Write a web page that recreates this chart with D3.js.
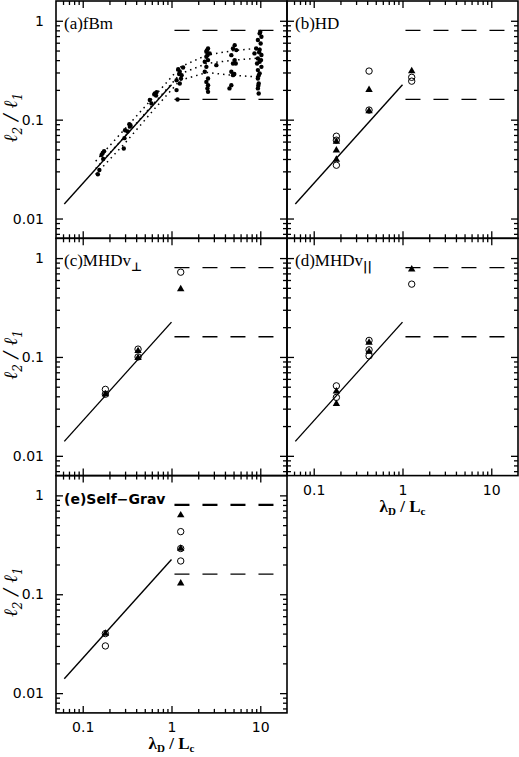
<!DOCTYPE html>
<html>
<head>
<meta charset="utf-8">
<script src="https://cdn.jsdelivr.net/npm/d3@7"></script>
<style>
body { margin: 0; background: #fff; }
svg { display: block; }
.frame { fill: none; stroke: #000; stroke-width: 1.6px; }
.tick line { stroke: #000; stroke-width: 1.3px; }
.ticklabel text { font-family: "DejaVu Sans", sans-serif; font-size: 14px; fill: #000; }
.panel-label { font-family: "Liberation Serif", serif; font-size: 17px; fill: #000; }
.fit { fill: none; stroke: #000; stroke-width: 1.4px; }
.limit { fill: none; stroke: #000; stroke-width: 1.3px; stroke-dasharray: 15,13; }
.fbm-path { fill: none; stroke: #000; stroke-width: 1.5px; stroke-dasharray: 1.5,4; }
</style>
</head>
<body>
<div id="canvas"></div>
<script>
// ---- DATA ----
var xMajor = [0.1, 1, 10];
var xMinor = [0.06, 0.07, 0.08, 0.09, 0.2, 0.3, 0.4, 0.5, 0.6, 0.7, 0.8, 0.9, 2, 3, 4, 5, 6, 7, 8, 9];
var yMajor = [0.01, 0.1, 1];
var yMinor = [0.007, 0.008, 0.009, 0.02, 0.03, 0.04, 0.05, 0.06, 0.07, 0.08, 0.09,
              0.2, 0.3, 0.4, 0.5, 0.6, 0.7, 0.8, 0.9];

// solid reference line and the two dashed limits
var fitX = [0.062, 1.0];
var fitY = [0.014, 0.225];
var limitX = [1.08, 14.5];
var limitY = [0.8, 0.16];

var panelNames = ['(a)fBm', '(b)HD', '(c)MHDv', '(d)MHDv', '(e)Self\u2212Grav'];
var panelSubs = ['', '', '\u22a5', '||', ''];

// (a) fBm: dotted tracks and single realisations
var fbmPathX = [0.14, 0.3, 0.65, 1.0, 1.25, 2.5, 5, 10];
var fbmPathA = [0.038, 0.081, 0.175, 0.27, 0.34, 0.45, 0.50, 0.53];
var fbmPathB = [0.032, 0.068, 0.15, 0.23, 0.29, 0.37, 0.40, 0.42];
var fbmPathC = [0.028, 0.058, 0.13, 0.20, 0.25, 0.30, 0.28, 0.27];
var fbmDots = [
  [0.148, 0.028], [0.154, 0.031], [0.163, 0.044], [0.17, 0.040], [0.174, 0.048], [0.168, 0.046],
  [0.29, 0.051], [0.295, 0.065], [0.30, 0.078], [0.32, 0.076], [0.34, 0.085], [0.335, 0.09], [0.345, 0.088],
  [0.57, 0.158], [0.595, 0.146], [0.64, 0.18], [0.65, 0.184], [0.68, 0.19], [0.67, 0.175],
  [1.14, 0.199], [1.14, 0.25], [1.19, 0.323], [1.24, 0.305], [1.24, 0.232], [1.30, 0.282],
  [1.35, 0.337], [1.17, 0.16], [1.22, 0.29], [1.28, 0.26],
  [2.58, 0.525], [2.47, 0.486], [2.69, 0.468], [2.47, 0.432], [2.58, 0.40], [2.37, 0.385],
  [3.2, 0.356], [2.47, 0.342], [2.37, 0.305], [2.58, 0.261], [2.47, 0.241], [2.58, 0.223],
  [2.54, 0.207], [2.58, 0.191], [2.5, 0.5], [2.55, 0.45],
  [5.15, 0.567], [4.93, 0.525], [5.37, 0.505], [4.72, 0.449], [5.15, 0.40], [4.93, 0.37],
  [5.3, 0.37], [4.72, 0.305], [4.93, 0.282], [5.1, 0.29], [4.72, 0.223], [4.5, 0.207],
  [9.84, 0.745], [10.3, 0.689], [9.4, 0.638], [10.1, 0.59], [9.0, 0.525], [9.84, 0.51],
  [8.6, 0.468], [10.3, 0.45], [9.4, 0.416], [9.84, 0.385], [9.2, 0.37], [10.3, 0.342],
  [9.4, 0.317], [9.84, 0.294], [9.4, 0.261], [9.6, 0.232], [9.4, 0.207], [9.6, 0.184],
  [10.0, 0.77], [9.7, 0.48], [10.2, 0.40], [9.6, 0.28], [9.5, 0.22]
];

// (b) HD
var hdCircles = [[0.18, 0.068], [0.18, 0.062], [0.18, 0.0346], [0.42, 0.31], [0.42, 0.125], [1.27, 0.268], [1.27, 0.245]];
var hdTriangles = [[0.18, 0.060], [0.18, 0.049], [0.18, 0.0395], [0.42, 0.20], [0.42, 0.122], [1.27, 0.31]];
// (c) MHD v perp
var perpCircles = [[0.18, 0.047], [0.18, 0.042], [0.42, 0.12], [0.42, 0.10], [1.27, 0.72]];
var perpTriangles = [[0.18, 0.042], [0.42, 0.115], [0.42, 0.098], [1.27, 0.485]];
// (d) MHD v par
var parCircles = [[0.18, 0.051], [0.18, 0.039], [0.42, 0.147], [0.42, 0.118], [0.42, 0.1026], [1.27, 0.545]];
var parTriangles = [[0.18, 0.045], [0.18, 0.0335], [0.42, 0.14], [0.42, 0.113], [1.27, 0.77]];
// (e) self-gravitating
var gravCircles = [[0.18, 0.040], [0.18, 0.030], [1.27, 0.43], [1.27, 0.29], [1.27, 0.217]];
var gravTriangles = [[0.18, 0.040], [1.27, 0.63], [1.27, 0.29], [1.27, 0.129]];


// ---- CONVENTIONS ----
var outerWidth = 519, outerHeight = 757;
var plotLeft = 56, plotTop = 1;
var panelW = 231, panelH = 237.3;

var svg = d3.select('#canvas')
    .append('svg')
    .attr('width', outerWidth)
    .attr('height', outerHeight);


// ---- SCALES ----
var scaleX = d3.scaleLog()
    .domain([0.05, 20])
    .range([0, panelW]);

var scaleY = d3.scaleLog()
    .domain([Math.pow(10, -2.2), Math.pow(10, 0.2)])
    .range([panelH, 0]);

var lineGenerator = d3.line()
    .x(function(d){ return scaleX(d[0]); })
    .y(function(d){ return scaleY(d[1]); });

var triangle = d3.symbol().type(d3.symbolTriangle).size(24);


// ---- PANELS ----
var panels = [
    {col: 0, row: 0, circles: [], triangles: [], xLabels: false, yLabels: true},
    {col: 1, row: 0, circles: hdCircles, triangles: hdTriangles, xLabels: false, yLabels: false},
    {col: 0, row: 1, circles: perpCircles, triangles: perpTriangles, xLabels: false, yLabels: true},
    {col: 1, row: 1, circles: parCircles, triangles: parTriangles, xLabels: true, yLabels: false},
    {col: 0, row: 2, circles: gravCircles, triangles: gravTriangles, xLabels: true, yLabels: true}
];

panels.forEach(function(p, i){
    var g = svg.append('g')
        .attr('transform', 'translate(' + (plotLeft + p.col * panelW) + ',' + (plotTop + p.row * panelH) + ')');

    drawTicks(g);

    g.append('rect').attr('class', 'frame')
        .attr('width', panelW).attr('height', panelH);

    // solid line
    g.append('path').attr('class', 'fit')
        .attr('d', lineGenerator(d3.zip(fitX, fitY)));

    // dashed limits
    limitY.forEach(function(v, j){
        g.append('path').attr('class', 'limit')
            .style('stroke-width', (i === 4 && j === 0) ? '2.3px' : null)
            .attr('d', lineGenerator([[limitX[0], v], [limitX[1], v]]));
    });

    if (i === 0) drawFbm(g);

    g.selectAll('.pt-circle')
        .data(p.circles)
        .enter().append('circle')
        .attr('class', 'pt-circle')
        .attr('cx', function(d){ return scaleX(d[0]); })
        .attr('cy', function(d){ return scaleY(d[1]); })
        .attr('r', 3.2)
        .style('fill', 'none')
        .style('stroke', '#000')
        .style('stroke-width', '1px');

    g.selectAll('.pt-tri')
        .data(p.triangles)
        .enter().append('path')
        .attr('class', 'pt-tri')
        .attr('d', triangle)
        .attr('transform', function(d){ return 'translate(' + scaleX(d[0]) + ',' + scaleY(d[1]) + ')'; })
        .style('fill', '#000');

    // panel name
    var label = g.append('text').attr('class', 'panel-label')
        .attr('x', 8).attr('y', 28);
    if (i === 4) {
        label.style('font-family', '"DejaVu Sans", sans-serif')
            .style('font-size', '14px').style('font-weight', 'bold');
    }
    label.append('tspan').text(panelNames[i]);
    if (panelSubs[i]) {
        label.append('tspan').attr('dy', 5)
            .style('font-family', '"DejaVu Sans", sans-serif')
            .style('font-weight', 'bold')
            .style('fill', '#000')
            .style('font-size', '12px').text(panelSubs[i]);
    }

    if (p.yLabels) {
        g.append('g').attr('class', 'ticklabel')
            .call(d3.axisLeft(scaleY).tickValues(yMajor).tickSize(0).tickPadding(12)
                .tickFormat(function(d){ return String(d); }))
            .call(function(a){ a.select('.domain').remove(); });

        var yt = g.append('text')
            .attr('transform', 'translate(-39,' + (panelH / 2 - 2) + ') rotate(-90)')
            .attr('text-anchor', 'middle')
            .style('font-family', '"DejaVu Serif", serif')
            .style('font-style', 'italic')
            .style('font-size', '19px');
        yt.append('tspan').text('\u2113');
        yt.append('tspan').attr('dy', 5).style('font-size', '12px').text('2');
        yt.append('tspan').attr('dy', -5).text(' / \u2113');
        yt.append('tspan').attr('dy', 5).style('font-size', '12px').text('1');
    }

    if (p.xLabels) {
        g.append('g').attr('class', 'ticklabel')
            .attr('transform', 'translate(0,' + panelH + ')')
            .call(d3.axisBottom(scaleX).tickValues(xMajor).tickSize(0).tickPadding(9)
                .tickFormat(function(d){ return String(d); }))
            .call(function(a){ a.select('.domain').remove(); });

        var xt = g.append('text')
            .attr('x', scaleX(1)).attr('y', panelH + 36)
            .attr('text-anchor', 'middle')
            .style('font-family', '"Liberation Serif", serif')
            .style('font-weight', 'bold')
            .style('font-size', '17px');
        xt.append('tspan').text('\u03bb');
        xt.append('tspan').attr('dy', 3).style('font-size', '11px').text('D');
        xt.append('tspan').attr('dy', -3).text('  /  L');
        xt.append('tspan').attr('dy', 3).style('font-size', '11px').text('c');
    }
});


// ---- MISC FUNCTIONS ----
function drawTicks(g){
    var noText = function(){ return ''; };
    var sets = [[xMajor, 7], [xMinor, 4]];
    sets.forEach(function(s){
        g.append('g').attr('transform', 'translate(0,' + panelH + ')')
            .call(d3.axisBottom(scaleX).tickValues(s[0]).tickSize(-s[1]).tickFormat(noText))
            .call(function(a){ a.select('.domain').remove(); });
        g.append('g')
            .call(d3.axisTop(scaleX).tickValues(s[0]).tickSize(-s[1]).tickFormat(noText))
            .call(function(a){ a.select('.domain').remove(); });
    });
    var ySets = [[yMajor, 7], [yMinor, 4]];
    ySets.forEach(function(s){
        g.append('g')
            .call(d3.axisLeft(scaleY).tickValues(s[0]).tickSize(-s[1]).tickFormat(noText))
            .call(function(a){ a.select('.domain').remove(); });
        g.append('g').attr('transform', 'translate(' + panelW + ',0)')
            .call(d3.axisRight(scaleY).tickValues(s[0]).tickSize(-s[1]).tickFormat(noText))
            .call(function(a){ a.select('.domain').remove(); });
    });
}

function drawFbm(g){
    [fbmPathA, fbmPathB, fbmPathC].forEach(function(ys){
        g.append('path').attr('class', 'fbm-path')
            .attr('d', lineGenerator(d3.zip(fbmPathX, ys)));
    });
    g.selectAll('.fbm-dot')
        .data(fbmDots)
        .enter().append('circle')
        .attr('class', 'fbm-dot')
        .attr('cx', function(d){ return scaleX(d[0]); })
        .attr('cy', function(d){ return scaleY(d[1]); })
        .attr('r', 2.2)
        .style('fill', '#000');
}
</script>
</body>
</html>
